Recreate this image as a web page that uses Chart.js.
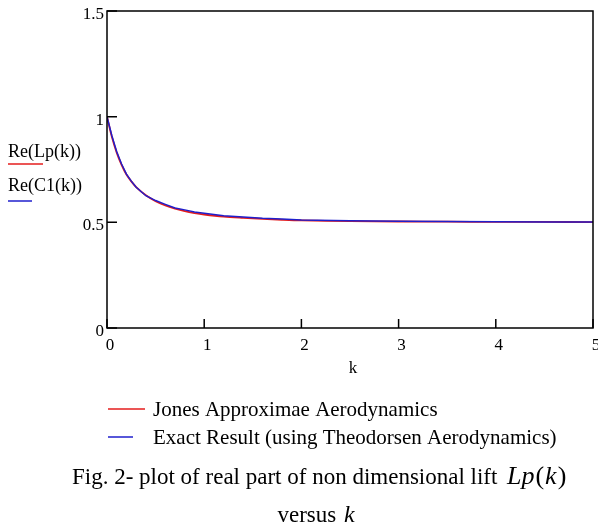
<!DOCTYPE html>
<html>
<head>
<meta charset="utf-8">
<style>
  html, body { margin: 0; padding: 0; background: #fff; }
  #wrap { width: 598px; height: 529px; }
</style>
<script src="https://cdn.jsdelivr.net/npm/chart.js@4.4.1/dist/chart.umd.min.js"></script>
</head>
<body>
<div id="wrap"><canvas id="lift" width="598" height="529"></canvas></div>
<script>
// k values
const kValues = [0, 0.05, 0.1, 0.15, 0.2, 0.25, 0.3, 0.4, 0.5, 0.6, 0.7, 0.8, 0.9, 1.0,
                 1.2, 1.4, 1.6, 1.8, 2.0, 2.5, 3.0, 3.5, 4.0, 4.5, 5.0];
// Re(Lp(k)) - Jones approximation (red)
const jonesRe = [1.0, 0.905, 0.83, 0.772, 0.726, 0.694, 0.667, 0.628, 0.600, 0.580, 0.565, 0.553, 0.544, 0.537,
                 0.527, 0.521, 0.516, 0.512, 0.509, 0.506, 0.504, 0.503, 0.502, 0.502, 0.501];
// Re(C1(k)) - Theodorsen (blue), slightly jagged in the original
const theoRe  = [1.0, 0.91, 0.834, 0.776, 0.728, 0.695, 0.666, 0.626, 0.603, 0.585, 0.568, 0.559, 0.549, 0.543,
                 0.531, 0.525, 0.519, 0.516, 0.511, 0.508, 0.505, 0.504, 0.503, 0.502, 0.502];

const xTicks = [0, 1, 2, 3, 4, 5];
const yTicks = [0, 0.5, 1, 1.5];

const RED = '#e41c1c';
const BLUE = '#1f1fcc';
const SERIF = '"Liberation Serif", "Times New Roman", serif';

const toPts = (ys) => kValues.map((k, i) => ({ x: k, y: ys[i] }));

// frame, inner ticks, labels, legends and caption
const Frame = {
  id: 'Frame',
  afterDatasetsDraw(chart) {
    const { ctx, chartArea: a, scales } = chart;
    const sx = scales.x, sy = scales.y;
    ctx.save();
    ctx.strokeStyle = '#000';
    ctx.lineWidth = 1.5;
    ctx.strokeRect(a.left, a.top, a.right - a.left, a.bottom - a.top);

    // inner ticks
    ctx.beginPath();
    yTicks.forEach(v => {
      const py = sy.getPixelForValue(v);
      ctx.moveTo(a.left, py); ctx.lineTo(a.left + 10, py);
    });
    xTicks.forEach(v => {
      const px = sx.getPixelForValue(v);
      ctx.moveTo(px, a.bottom); ctx.lineTo(px, a.bottom - 9);
    });
    ctx.stroke();

    ctx.fillStyle = '#000';
    ctx.font = '17px ' + SERIF;
    ctx.textBaseline = 'alphabetic';
    ctx.textAlign = 'right';
    yTicks.forEach(v => {
      ctx.fillText(String(v), a.left - 3, sy.getPixelForValue(v) + 8);
    });
    ctx.textAlign = 'center';
    xTicks.forEach(v => {
      ctx.fillText(String(v), sx.getPixelForValue(v) + 3, a.bottom + 22);
    });
    ctx.fillText('k', (a.left + a.right) / 2 + 3, a.bottom + 45);

    // trace legend on the left
    ctx.textAlign = 'left';
    ctx.font = '18px ' + SERIF;
    ctx.fillText('Re(Lp(k))', 8, 157);
    ctx.fillText('Re(C1(k))', 8, 191);
    ctx.lineWidth = 1.5;
    ctx.strokeStyle = RED;
    ctx.beginPath(); ctx.moveTo(8, 164); ctx.lineTo(43, 164); ctx.stroke();
    ctx.strokeStyle = BLUE;
    ctx.beginPath(); ctx.moveTo(8, 201); ctx.lineTo(32, 201); ctx.stroke();

    // legend below
    const ds = chart.data.datasets;
    ctx.font = '21px ' + SERIF;
    ctx.strokeStyle = ds[0].borderColor;
    ctx.beginPath(); ctx.moveTo(108, 409); ctx.lineTo(145, 409); ctx.stroke();
    ctx.fillText(ds[0].label, 153, 416);
    ctx.strokeStyle = ds[1].borderColor;
    ctx.beginPath(); ctx.moveTo(108, 437); ctx.lineTo(133, 437); ctx.stroke();
    ctx.fillText(ds[1].label, 153, 444);

    // caption
    ctx.font = '23px ' + SERIF;
    ctx.fillText('Fig. 2- plot of real part of non dimensional lift', 72, 484);
    let x = 507;
    const part = (t, italic) => {
      ctx.font = (italic ? 'italic ' : '') + '26px ' + SERIF;
      ctx.fillText(t, x, 484);
      x += ctx.measureText(t).width + 1;
    };
    part('Lp', true); part('(', false); part('k', true); part(')', false);

    ctx.font = '23px ' + SERIF;
    ctx.textAlign = 'right';
    ctx.fillText('versus ', 342, 522);
    ctx.textAlign = 'left';
    ctx.font = 'italic 24px ' + SERIF;
    ctx.fillText('k', 344, 522);
    ctx.restore();
  }
};

new Chart(document.getElementById('lift'), {
  type: 'line',
  data: {
    datasets: [
      {
        label: 'Jones Approximae Aerodynamics',
        data: toPts(jonesRe),
        borderColor: RED,
        borderWidth: 1.8,
        pointRadius: 0,
        tension: 0.3,
        fill: false,
        order: 2
      },
      {
        label: 'Exact Result (using Theodorsen Aerodynamics)',
        data: toPts(theoRe),
        borderColor: BLUE,
        borderWidth: 1.5,
        pointRadius: 0,
        tension: 0,
        fill: false,
        order: 1
      }
    ]
  },
  options: {
    responsive: false,
    animation: false,
    devicePixelRatio: 1,
    layout: { padding: { left: 107, top: 11, right: 5, bottom: 201 } },
    plugins: { legend: { display: false }, tooltip: { enabled: false } },
    scales: {
      x: { type: 'linear', min: 0, max: 5, display: false },
      y: { type: 'linear', min: 0, max: 1.5, display: false }
    }
  },
  plugins: [Frame]
});
</script>
</body>
</html>
